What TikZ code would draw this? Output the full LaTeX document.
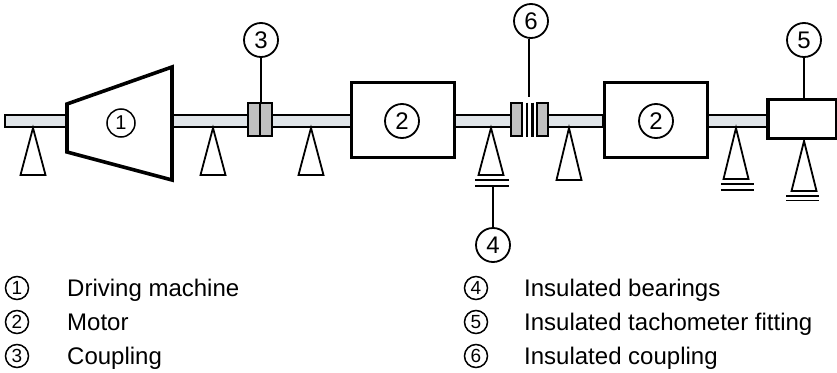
\documentclass[tikz,border=0pt]{standalone}
\usepackage{fontspec}
\setmainfont{Liberation Sans}
\newcommand{\bigtxt}{\fontsize{24}{28}\selectfont}
\tikzset{
  x=1pt,y=-1pt,
  shaft/.style={draw=black,line width=1.8pt,fill=shaftgray},
  heavy/.style={draw=black,line width=3.6pt,fill=white,line join=miter},
  block/.style={draw=black,line width=1.9pt,fill=blockgray},
  bearing/.style={draw=black,line width=1.8pt,fill=white,line join=miter},
  bar/.style={draw=black,line width=1.8pt},
  leader/.style={draw=black,line width=1.8pt},
  callout/.style={circle,draw=black,line width=1.8pt,fill=white,minimum size=34pt,inner sep=0pt,font=\bigtxt},
  small/.style={circle,draw=black,line width=1.5pt,fill=white,minimum size=28pt,inner sep=0pt,font=\fontsize{20}{24}\selectfont},
  keynum/.style={circle,draw=black,line width=1.5pt,minimum size=23pt,inner sep=0pt,font=\fontsize{19}{22}\selectfont},
  keytxt/.style={anchor=base west,inner sep=0pt,font=\bigtxt}
}
\definecolor{shaftgray}{HTML}{DFE4E8}
\definecolor{blockgray}{HTML}{C0C0C0}
\begin{document}
\begin{tikzpicture}
\useasboundingbox (0,0) rectangle (837,372);
% shafts
\path[shaft] (5,115) rectangle (67,127);
\path[shaft] (172,115) rectangle (248,127);
\path[shaft] (272,115) rectangle (351,127);
\path[shaft] (454,115) rectangle (511,127);
\path[shaft] (548,115) rectangle (603,127);
\path[shaft] (708,115) rectangle (768,127);
% machines
\path[heavy] (67,104) -- (172,67) -- (172,180) -- (67,152) -- cycle;
\node[heavy,line width=3pt,minimum width=103pt,minimum height=75pt,inner sep=0pt] (m1) at (402.5,119.5) {};
\node[heavy,line width=3pt,minimum width=103pt,minimum height=75pt,inner sep=0pt] (m2) at (655.5,119.5) {};
\node[heavy,line width=3.2pt,minimum width=69pt,minimum height=39pt,inner sep=0pt] (tacho) at (802.5,119) {};
% coupling 3
\node[block,minimum width=24pt,minimum height=33pt,inner sep=0pt] (c3) at (260,119.5) {};
\draw[line width=1.9pt] (c3.north) -- (c3.south);
% coupling 6
\node[block,minimum width=11pt,minimum height=33pt,inner sep=0pt] (c6a) at (516.5,119.5) {};
\node[block,minimum width=11pt,minimum height=33pt,inner sep=0pt] (c6b) at (542.5,119.5) {};
\coordinate (c6top) at (529,97);
\draw[line width=2.8pt] (527,102.5) -- (527,136.5) (532.5,102.5) -- (532.5,136.5);
% bearings
\foreach \ax/\ay/\by in {33/128/175,213/128/175,311/128/175,491/128/175,569/128/180,736/128/179,804/141/191}{
  \path[bearing] (\ax,\ay) -- (\ax+12.5,\by) -- (\ax-12.5,\by) -- cycle;
}
\path[bar] (475,180) -- (509,180) (475,186) -- (509,186);
\path[bar] (721,184) -- (754,184) (721,190) -- (754,190);
\path[bar] (786,196) -- (819,196) (786,200.5) -- (819,200.5);
\coordinate (b4) at (493,187);
% callouts
\node[small] (n1) at (121,123) {1};
\node[callout] (n2a) at (402,121) {2};
\node[callout] (n2b) at (656,121) {2};
\node[callout] (n3) at (261,40) {3};
\node[callout] (n4) at (493,245) {4};
\node[callout] (n5) at (804,40) {5};
\node[callout] (n6) at (531,21) {6};
\draw[leader] (n3) -- (n3 |- c3.north);
\draw[leader] (n4) -- (n4 |- b4);
\draw[leader] (n5) -- (n5 |- tacho.north);
\draw[leader,line width=1.1pt] (n6.south -| c6top) -- (c6top);
% key
\foreach \nm/\y/\num/\tx in {k1/288/1/Driving machine,k2/322/2/Motor,k3/356/3/Coupling}{
  \node[keynum] (\nm) at (17,\y) {\num};
  \node[keytxt] at (67,\y+8.5) {\tx};
}
\foreach \nm/\y/\num/\tx in {k4/288/4/Insulated bearings,k5/322/5/Insulated tachometer fitting,k6/356/6/Insulated coupling}{
  \node[keynum] (\nm) at (476,\y) {\num};
  \node[keytxt] at (524,\y+8.5) {\tx};
}
\end{tikzpicture}
\end{document}
